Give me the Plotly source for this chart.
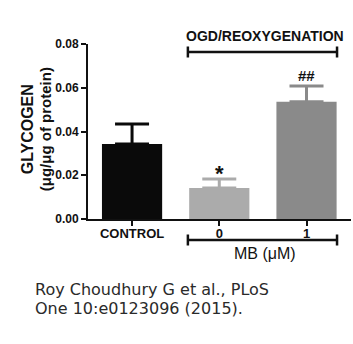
import plotly.graph_objects as go

# Glycogen content per group (mean and SEM)
categories = ["CONTROL", "0", "1"]
glycogen = [0.0343, 0.0142, 0.0536]
sem = [0.0091, 0.0041, 0.0072]
bar_colors = ["#0a0a0a", "#ababab", "#8a8a8a"]
significance = ["", "*", "##"]
y_ticks = [0.00, 0.02, 0.04, 0.06, 0.08]

FONT = "Liberation Sans, Arial, sans-serif"

fig = go.Figure()
for cat, val, err, col in zip(categories, glycogen, sem, bar_colors):
    fig.add_trace(go.Bar(
        x=[cat], y=[val], width=0.69,
        marker=dict(color=col, line=dict(width=0)),
        error_y=dict(type="data", array=[err], symmetric=False, arrayminus=[0],
                     color=col, thickness=3, width=17),
        showlegend=False,
    ))

annotations = []
# significance marks, placed by category index above each error cap
for idx, (val, err, mark) in enumerate(zip(glycogen, sem, significance)):
    if mark:
        big = mark == "*"
        annotations.append(dict(
            x=idx, y=val + err, xref="x", yref="y", text=f"<b>{mark}</b>",
            showarrow=False, yanchor="bottom", yshift=-9 if big else 0,
            font=dict(family=FONT, size=22 if big else 15, color="#111"),
        ))

# y-axis title, two rotated lines
annotations += [
    dict(x=(27.5 - 88) / 263, y=0.51, xref="paper", yref="paper",
         text="<b>GLYCOGEN</b>", textangle=-90, showarrow=False,
         xanchor="center", yanchor="middle",
         font=dict(family=FONT, size=16, color="#111")),
    dict(x=(45.5 - 88) / 263, y=0.51, xref="paper", yref="paper",
         text="<b>(μg/μg of protein)</b>", textangle=-90, showarrow=False,
         xanchor="center", yanchor="middle",
         font=dict(family=FONT, size=15, color="#111")),
    dict(x=1.52, y=(219 - 36) / 175, xref="x", yref="paper",
         text="<b>OGD/REOXYGENATION</b>", showarrow=False,
         xanchor="center", yanchor="middle",
         font=dict(family=FONT, size=14, color="#111")),
    dict(x=1.52, y=(219 - 253) / 175, xref="x", yref="paper",
         text="MB (μM)", showarrow=False, xanchor="center", yanchor="middle",
         font=dict(family=FONT, size=16, color="#111")),
    dict(x=(33 - 88) / 263, y=(219 - 289) / 175, xref="paper", yref="paper",
         text="Roy Choudhury G et al., PLoS", showarrow=False,
         xanchor="left", yanchor="middle",
         font=dict(family="DejaVu Sans", size=16, color="#2a2a2a")),
    dict(x=(33 - 88) / 263, y=(219 - 308) / 175, xref="paper", yref="paper",
         text="One 10:e0123096 (2015).", showarrow=False,
         xanchor="left", yanchor="middle",
         font=dict(family="DejaVu Sans", size=16, color="#2a2a2a")),
]

# Group brackets above and below the treated bars
shapes = []
x0, x1 = 1 - 0.36, 2 + 0.35
for ypx in (52, 240):
    yp = (219 - ypx) / 175
    cap = 5.5 / 175
    line = dict(color="#111", width=2.5)
    shapes.append(dict(type="line", xref="x", yref="paper", x0=x0, x1=x1, y0=yp, y1=yp, line=line))
    shapes.append(dict(type="line", xref="x", yref="paper", x0=x0, x1=x0, y0=yp - cap, y1=yp + cap, line=line))
    shapes.append(dict(type="line", xref="x", yref="paper", x0=x1, x1=x1, y0=yp - cap, y1=yp + cap, line=line))

fig.update_layout(
    width=353, height=344,
    margin=dict(l=88, r=2, t=44, b=125),
    paper_bgcolor="white", plot_bgcolor="white",
    barmode="overlay",
    annotations=annotations, shapes=shapes,
    font=dict(family=FONT, color="#111"),
)
fig.update_xaxes(
    type="category", range=[-0.505, 2.51],
    showline=True, linecolor="#111", linewidth=2,
    ticks="outside", ticklen=5, tickwidth=2, tickcolor="#111",
    ticklabelstandoff=-4,
    tickfont=dict(family=FONT, size=13, color="#111"),
    ticktext=[f"<b>{c}</b>" for c in categories], tickvals=categories,
    showgrid=False, zeroline=False,
)
fig.update_yaxes(
    range=[0, 0.08], tickvals=y_ticks,
    ticktext=[f"<b>{v:.2f}</b>" for v in y_ticks],
    showline=True, linecolor="#111", linewidth=2,
    ticks="outside", ticklen=5, tickwidth=2, tickcolor="#111",
    tickfont=dict(family=FONT, size=12, color="#111"),
    showgrid=False, zeroline=False,
)

fig.write_html("out.html")
